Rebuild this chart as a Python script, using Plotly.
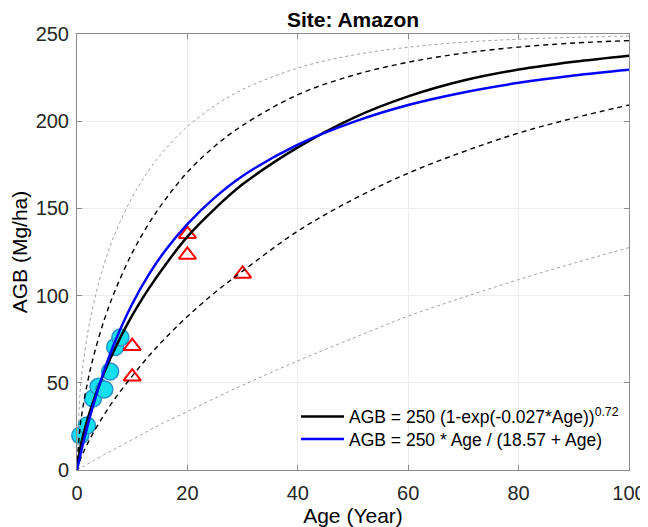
import plotly.graph_objects as go

# ---- data ----
age_grid = [0, 0.5, 1, 2, 3, 5, 7, 10, 13, 16, 20, 25, 30, 40, 50, 60, 70, 80, 90, 100]

agb_black = [0, 11.2, 18.4, 30.0, 39.7, 56.4, 70.4, 88.6, 104.0, 117.6, 133.8,
             149.9, 163.8, 185.0, 201.8, 214.2, 223.3, 229.6, 234.1, 237.6]
agb_blue = [0, 7.1, 13.9, 26.4, 37.8, 57.7, 74.5, 95.2, 112.0, 125.9, 141.0,
            156.3, 168.6, 186.6, 199.5, 209.3, 216.5, 222.0, 226.2, 229.5]
agb_dash_hi = [0, 22.9, 34.5, 51.7, 65.2, 86.7, 103.7, 124.5, 141.2, 155.1, 170.8,
               185.8, 197.6, 215.2, 226.3, 233.8, 239.0, 242.5, 244.8, 246.2]
agb_dash_lo = [0, 5.2, 9.1, 15.7, 21.6, 32.1, 41.5, 53.8, 65.3, 75.6, 88.0,
               101.8, 114.0, 137.0, 155.1, 170.2, 182.5, 193.2, 201.8, 209.3]
agb_dot_hi = [0, 42.2, 58.2, 79.7, 95.4, 118.9, 136.4, 156.4, 171.8, 184.0, 196.9,
              209.0, 218.2, 230.5, 237.9, 242.4, 245.3, 247.0, 248.1, 248.8]
agb_dot_lo = [0, 0.9, 1.8, 3.6, 5.4, 8.9, 12.3, 17.4, 22.6, 27.6, 33.5,
              41.2, 48.6, 62.6, 75.6, 88.2, 99.0, 109.2, 118.6, 127.5]

circ_age = [0.6, 1.8, 2.9, 3.9, 4.95, 6.0, 6.9, 7.85]
circ_agb = [19.8, 25.5, 41.0, 47.8, 46.2, 56.5, 70.5, 76.0]

tri_age = [10, 10, 20, 20, 30]
tri_agb = [71.0, 53.5, 135.2, 123.3, 112.4]

x_ticks = [0, 20, 40, 60, 80, 100]
y_ticks = [0, 50, 100, 150, 200, 250]

label_black = "AGB = 250 (1-exp(-0.027*Age))<sup>0.72</sup>"
label_blue = "AGB = 250 * Age / (18.57 + Age)"

FONT = "Liberation Sans, Arial, Helvetica, sans-serif"

fig = go.Figure()

# data markers (drawn under the curves)
fig.add_trace(go.Scatter(
    x=circ_age, y=circ_agb, mode="markers", showlegend=False, cliponaxis=False,
    marker=dict(symbol="circle", size=17, color="#14e0f0",
                line=dict(color="#2a8fc8", width=1.5))))
fig.add_trace(go.Scatter(
    x=tri_age, y=tri_agb, mode="markers", showlegend=False, cliponaxis=False,
    marker=dict(symbol="triangle-up-open", size=15, color="#ff0000",
                line=dict(color="#ff0000", width=2))))

# envelope curves
for ys in (agb_dot_hi, agb_dot_lo):
    fig.add_trace(go.Scatter(
        x=age_grid, y=ys, mode="lines", showlegend=False,
        line=dict(color="#a0a0a0", width=1, dash="dot", shape="spline")))
for ys in (agb_dash_hi, agb_dash_lo):
    fig.add_trace(go.Scatter(
        x=age_grid, y=ys, mode="lines", showlegend=False,
        line=dict(color="#000000", width=1.4, dash="5px,4px", shape="spline")))

# fitted models
fig.add_trace(go.Scatter(
    x=age_grid, y=agb_black, mode="lines", name=label_black, legend="legend",
    line=dict(color="#000000", width=2.5, shape="spline")))
fig.add_trace(go.Scatter(
    x=age_grid, y=agb_blue, mode="lines", name=label_blue, legend="legend2",
    line=dict(color="#0000ff", width=2.5, shape="spline")))

axis_common = dict(
    showline=True, linecolor="#8c8c8c", linewidth=1, mirror="ticks",
    ticks="inside", ticklen=5, tickcolor="#8c8c8c",
    showgrid=True, gridcolor="#ececec", gridwidth=1, zeroline=False,
    tickfont=dict(family=FONT, size=20, color="#262626"),
    automargin=False,
)

# the page body adds an 8 px offset, so the figure is 8 px smaller
W, H = 640, 519
L, R, T, B = 69, 19, 26, 57
PW, PH = W - L - R, H - T - B

legend_common = dict(
    x=(288 - L) / PW, xanchor="left", yanchor="middle",
    bgcolor="rgba(255,255,255,0)", borderwidth=0,
    font=dict(family=FONT, size=17.5, color="#000000"),
    itemwidth=43,
)

fig.update_layout(
    width=W, height=H,
    margin=dict(l=L, r=R, t=T, b=B),
    paper_bgcolor="white", plot_bgcolor="white",
    title=dict(text="<b>Site: Amazon</b>", x=(L + PW / 2) / W, xanchor="center",
               xref="container", y=1 - 12 / H, yref="container", yanchor="middle",
               font=dict(family=FONT, size=21, color="#000000")),
    xaxis=dict(range=[0, 100], tickvals=x_ticks, ticklabelstandoff=5, **axis_common,
               title=dict(text="Age (Year)", standoff=3,
                          font=dict(family=FONT, size=21, color="#000000"))),
    yaxis=dict(range=[0, 250], tickvals=y_ticks, ticklabelstandoff=3, **axis_common,
               title=dict(text="AGB (Mg/ha)", standoff=2,
                          font=dict(family=FONT, size=21, color="#000000"))),
    legend=dict(y=1 - (408.7 - T) / PH, **legend_common),
    legend2=dict(y=1 - (431.0 - T) / PH, **legend_common),
    showlegend=True,
)

fig.write_html("out.html")
